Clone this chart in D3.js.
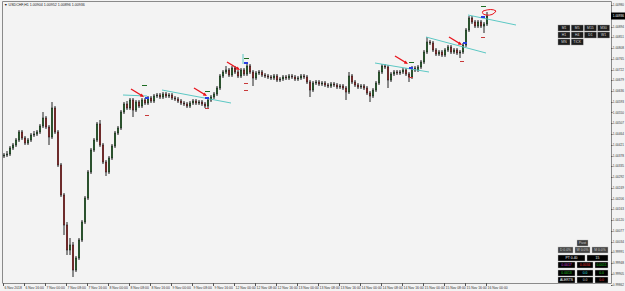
<!DOCTYPE html>
<html>
<head>
<meta charset="utf-8">
<script src="https://cdn.jsdelivr.net/npm/d3@7"></script>
<style>
  html, body { margin: 0; padding: 0; background: #f3f3f3; }
  svg { display: block; }
  text { font-family: "Liberation Sans", Arial, sans-serif; }
</style>
</head>
<body>
<div id="main"></div>
<script>
// USDCHF H1 candles
var open = [1.00376,1.00380,1.00384,1.00408,1.00420,1.00440,1.00472,1.00448,1.00428,1.00440,
  1.00460,1.00464,1.00472,1.00496,1.00528,1.00492,1.00452,1.00568,1.00472,1.00340,
  1.00220,1.00100,1.00000,1.00020,0.99920,0.99968,1.00040,1.00112,1.00208,1.00312,
  1.00400,1.00440,1.00504,1.00420,1.00352,1.00312,1.00368,1.00416,1.00468,1.00488,
  1.00552,1.00584,1.00568,1.00600,1.00560,1.00592,1.00576,1.00600,1.00588,1.00608,
  1.00596,1.00616,1.00620,1.00612,1.00624,1.00616,1.00620,1.00608,1.00604,1.00596,
  1.00588,1.00584,1.00576,1.00588,1.00596,1.00588,1.00592,1.00584,1.00576,1.00600,
  1.00612,1.00624,1.00648,1.00696,1.00712,1.00720,1.00700,1.00728,1.00712,1.00696,
  1.00720,1.00704,1.00736,1.00712,1.00688,1.00708,1.00712,1.00700,1.00696,1.00692,
  1.00688,1.00696,1.00680,1.00684,1.00692,1.00688,1.00696,1.00692,1.00684,1.00688,
  1.00696,1.00692,1.00672,1.00640,1.00668,1.00672,1.00664,1.00668,1.00660,1.00656,
  1.00664,1.00660,1.00652,1.00656,1.00648,1.00632,1.00696,1.00672,1.00660,1.00652,
  1.00656,1.00648,1.00628,1.00616,1.00640,1.00668,1.00712,1.00736,1.00732,1.00680,
  1.00704,1.00712,1.00708,1.00712,1.00720,1.00704,1.00692,1.00728,1.00720,1.00732,
  1.00752,1.00792,1.00832,1.00828,1.00800,1.00784,1.00792,1.00780,1.00800,1.00812,
  1.00792,1.00800,1.00788,1.00792,1.00820,1.00880,1.00928,1.00912,1.00896,1.00912,
  1.00896,1.00904];
var high = [1.00388,1.00396,1.00416,1.00428,1.00448,1.00480,1.00480,1.00456,1.00448,1.00468,
  1.00476,1.00480,1.00504,1.00552,1.00536,1.00500,1.00592,1.00576,1.00480,1.00348,
  1.00228,1.00112,1.00048,1.00032,0.99976,1.00048,1.00120,1.00216,1.00320,1.00408,
  1.00448,1.00512,1.00520,1.00428,1.00360,1.00376,1.00424,1.00476,1.00496,1.00560,
  1.00592,1.00596,1.00608,1.00608,1.00600,1.00600,1.00608,1.00608,1.00616,1.00616,
  1.00624,1.00628,1.00628,1.00632,1.00632,1.00628,1.00628,1.00616,1.00612,1.00604,
  1.00596,1.00592,1.00596,1.00604,1.00604,1.00600,1.00600,1.00592,1.00608,1.00620,
  1.00632,1.00656,1.00704,1.00720,1.00736,1.00728,1.00736,1.00736,1.00720,1.00728,
  1.00728,1.00744,1.00744,1.00720,1.00716,1.00720,1.00720,1.00708,1.00704,1.00700,
  1.00704,1.00704,1.00692,1.00700,1.00700,1.00704,1.00704,1.00700,1.00696,1.00704,
  1.00704,1.00700,1.00680,1.00676,1.00680,1.00680,1.00676,1.00676,1.00668,1.00672,
  1.00672,1.00668,1.00664,1.00664,1.00656,1.00712,1.00704,1.00680,1.00668,1.00664,
  1.00664,1.00656,1.00636,1.00648,1.00676,1.00720,1.00744,1.00744,1.00740,1.00712,
  1.00720,1.00720,1.00720,1.00728,1.00728,1.00712,1.00736,1.00736,1.00740,1.00760,
  1.00800,1.00852,1.00840,1.00836,1.00808,1.00800,1.00800,1.00808,1.00820,1.00820,
  1.00808,1.00808,1.00800,1.00828,1.00888,1.00936,1.00936,1.00920,1.00920,1.00920,
  1.00912,1.00952];
var low = [1.00368,1.00372,1.00376,1.00400,1.00412,1.00432,1.00440,1.00420,1.00420,1.00432,
  1.00452,1.00456,1.00464,1.00488,1.00484,1.00420,1.00444,1.00464,1.00332,1.00212,
  1.00060,0.99980,0.99980,0.99892,0.99912,0.99960,1.00032,1.00104,1.00200,1.00304,
  1.00392,1.00432,1.00412,1.00344,1.00296,1.00304,1.00360,1.00408,1.00460,1.00480,
  1.00544,1.00560,1.00560,1.00532,1.00552,1.00568,1.00568,1.00580,1.00580,1.00588,
  1.00588,1.00608,1.00604,1.00604,1.00608,1.00608,1.00600,1.00596,1.00588,1.00580,
  1.00576,1.00568,1.00568,1.00580,1.00580,1.00580,1.00576,1.00568,1.00568,1.00592,
  1.00604,1.00616,1.00640,1.00688,1.00704,1.00692,1.00692,1.00704,1.00688,1.00688,
  1.00696,1.00696,1.00704,1.00656,1.00680,1.00700,1.00692,1.00688,1.00684,1.00680,
  1.00680,1.00672,1.00672,1.00676,1.00680,1.00680,1.00684,1.00676,1.00676,1.00680,
  1.00684,1.00664,1.00612,1.00632,1.00660,1.00656,1.00656,1.00652,1.00648,1.00648,
  1.00652,1.00644,1.00644,1.00640,1.00600,1.00624,1.00664,1.00652,1.00644,1.00644,
  1.00640,1.00620,1.00592,1.00608,1.00632,1.00660,1.00704,1.00724,1.00648,1.00672,
  1.00696,1.00700,1.00700,1.00704,1.00696,1.00672,1.00684,1.00712,1.00712,1.00724,
  1.00744,1.00784,1.00820,1.00792,1.00776,1.00776,1.00772,1.00772,1.00792,1.00784,
  1.00784,1.00780,1.00768,1.00784,1.00812,1.00872,1.00904,1.00888,1.00888,1.00888,
  1.00868,1.00896];
var close = [1.00380,1.00384,1.00408,1.00420,1.00440,1.00472,1.00448,1.00428,1.00440,1.00460,
  1.00464,1.00472,1.00496,1.00528,1.00492,1.00452,1.00568,1.00472,1.00340,1.00220,
  1.00100,1.00000,1.00020,0.99920,0.99968,1.00040,1.00112,1.00208,1.00312,1.00400,
  1.00440,1.00504,1.00420,1.00352,1.00312,1.00368,1.00416,1.00468,1.00488,1.00552,
  1.00584,1.00568,1.00600,1.00560,1.00592,1.00576,1.00600,1.00588,1.00608,1.00596,
  1.00616,1.00620,1.00612,1.00624,1.00616,1.00620,1.00608,1.00604,1.00596,1.00588,
  1.00584,1.00576,1.00588,1.00596,1.00588,1.00592,1.00584,1.00576,1.00600,1.00612,
  1.00624,1.00648,1.00696,1.00712,1.00720,1.00700,1.00728,1.00712,1.00696,1.00720,
  1.00704,1.00736,1.00712,1.00688,1.00708,1.00712,1.00700,1.00696,1.00692,1.00688,
  1.00696,1.00680,1.00684,1.00692,1.00688,1.00696,1.00692,1.00684,1.00688,1.00696,
  1.00692,1.00672,1.00640,1.00668,1.00672,1.00664,1.00668,1.00660,1.00656,1.00664,
  1.00660,1.00652,1.00656,1.00648,1.00632,1.00696,1.00672,1.00660,1.00652,1.00656,
  1.00648,1.00628,1.00616,1.00640,1.00668,1.00712,1.00736,1.00732,1.00680,1.00704,
  1.00712,1.00708,1.00712,1.00720,1.00704,1.00692,1.00728,1.00720,1.00732,1.00752,
  1.00792,1.00832,1.00828,1.00800,1.00784,1.00792,1.00780,1.00800,1.00812,1.00792,
  1.00800,1.00788,1.00792,1.00820,1.00880,1.00928,1.00912,1.00896,1.00912,1.00896,
  1.00904,1.00936];

var priceTicks = [1.00980,1.00937,1.00894,1.00851,1.00808,1.00765,1.00722,1.00679,1.00636,
  1.00593,1.00550,1.00507,1.00464,1.00421,1.00378,1.00335,1.00292,1.00249,1.00206,1.00163,
  1.00120,1.00077,1.00034,0.99991,0.99948,0.99905,0.99862];
var timeLabels = ["6 Nov 2018","6 Nov 16:00","7 Nov 00:00","7 Nov 08:00","7 Nov 16:00",
  "8 Nov 00:00","8 Nov 08:00","8 Nov 16:00","9 Nov 00:00","9 Nov 08:00","9 Nov 16:00",
  "12 Nov 00:00","12 Nov 08:00","12 Nov 16:00","13 Nov 00:00","13 Nov 08:00","13 Nov 16:00",
  "14 Nov 00:00","14 Nov 08:00","14 Nov 16:00","15 Nov 00:00","15 Nov 08:00","15 Nov 16:00",
  "16 Nov 00:00"];
var titleText = "USDCHF,H1  1.00904 1.00952 1.00896 1.00936";

// annotations: [bar, price]
var trendLines = [[40,1.00620,48,1.00616],[53,1.00640,76,1.00588],[80,1.00784,80,1.00744],
  [124,1.00748,142,1.00712],[141,1.00852,161,1.00788],[155,1.00940,171,1.00900]];
var arrowTargets = [[47,1.00612],[68,1.00616],[79,1.00720],[135,1.00744],[153,1.00820]];
var blueMarks = [[48,1.00608],[68,1.00608],[81,1.00748],[136,1.00728],[154,1.00828],[160,1.00932]];
var greenMarks = [[47,1.00660],[68,1.00636],[81,1.00768],[136,1.00752],[160,1.00976]];
var redMarks = [[48,1.00540],[68,1.00568],[81,1.00668],[81,1.00640],[136,1.00692],[153,1.00756],[160,1.00852]];

var topButtons = [["M1","M5","M15","M30"],["H1","H4","D1","W1"],["MN","TICK"]];

var W = 625, H = 291;
var plotRight = 611, plotBottom = 283;

var svg = d3.select("#main").append("svg")
    .attr("width", W).attr("height", H);

svg.append("rect").attr("width", W).attr("height", H).attr("fill", "#f3f3f3");

var x = d3.scaleLinear().domain([0, close.length - 1]).range([3, 486]);
var y = d3.scaleLinear().domain([0.9988, 1.01]).range([280, 0]);

// frame
svg.append("path")
    .attr("d", "M2.5," + plotBottom + "V1.5H" + (plotRight + 0.5) + "V" + (plotBottom + 0.5) + "H2.5")
    .attr("fill", "none").attr("stroke", "#8a8a8a");

// price axis
var pAxis = svg.append("g");
pAxis.selectAll("line").data(priceTicks).enter().append("line")
    .attr("x1", plotRight).attr("x2", plotRight + 1.5)
    .attr("y1", function(d) { return Math.round(y(d)) + 0.5; })
    .attr("y2", function(d) { return Math.round(y(d)) + 0.5; })
    .attr("stroke", "#555");
pAxis.selectAll("text").data(priceTicks).enter().append("text")
    .attr("x", plotRight + 1.8)
    .attr("y", function(d) { return y(d) + 1.1; })
    .attr("font-size", 3.1).attr("fill", "#333")
    .text(function(d) { return d.toFixed(5); });

// time axis
var timeBars = d3.range(0, close.length, 7);
var tAxis = svg.append("g");
tAxis.selectAll("line").data(timeBars).enter().append("line")
    .attr("x1", function(d) { return Math.round(x(d)) + 0.5; })
    .attr("x2", function(d) { return Math.round(x(d)) + 0.5; })
    .attr("y1", plotBottom).attr("y2", plotBottom + 3)
    .attr("stroke", "#555");
tAxis.selectAll("text").data(timeBars).enter().append("text")
    .attr("x", function(d) { return x(d) + 1.5; })
    .attr("y", plotBottom + 5.5)
    .attr("font-size", 3.4).attr("fill", "#333")
    .text(function(d, i) { return timeLabels[i]; });

// title
svg.append("text").attr("x", 4).attr("y", 5.5)
    .attr("font-size", 3.6).attr("fill", "#222")
    .text("\u25BC " + titleText);

// candles
var idx = d3.range(close.length);
var candles = svg.append("g");
candles.selectAll("line").data(idx).enter().append("line")
    .attr("x1", function(i) { return Math.round(x(i)) + 1; })
    .attr("x2", function(i) { return Math.round(x(i)) + 1; })
    .attr("y1", function(i) { return y(high[i]); })
    .attr("y2", function(i) { return y(low[i]); })
    .attr("stroke", "#222").attr("stroke-width", 1);
candles.selectAll("rect").data(idx).enter().append("rect")
    .attr("x", function(i) { return Math.round(x(i)) + 0.25; })
    .attr("y", function(i) { return y(Math.max(open[i], close[i])); })
    .attr("width", 1.5)
    .attr("height", function(i) { return Math.max(0.6, Math.abs(y(open[i]) - y(close[i]))); })
    .attr("fill", function(i) { return close[i] >= open[i] ? "#23892c" : "#d42424"; })
    .attr("stroke", "#1a1a1a").attr("stroke-width", 0.5);

// trend lines
svg.append("g").selectAll("line").data(trendLines).enter().append("line")
    .attr("x1", function(d) { return x(d[0]); })
    .attr("y1", function(d) { return y(d[1]); })
    .attr("x2", function(d) { return x(d[2]); })
    .attr("y2", function(d) { return y(d[3]); })
    .attr("stroke", "#5cc8c4").attr("stroke-width", 1);

// markers
svg.append("g").selectAll("rect").data(blueMarks).enter().append("rect")
    .attr("x", function(d) { return x(d[0]) - 2; })
    .attr("y", function(d) { return y(d[1]) - 1; })
    .attr("width", 4).attr("height", 2)
    .attr("fill", "#2a3ee0");
svg.append("g").selectAll("rect").data(greenMarks).enter().append("rect")
    .attr("x", function(d) { return x(d[0]) - 2; })
    .attr("y", function(d) { return y(d[1]); })
    .attr("width", 5).attr("height", 1)
    .attr("fill", "#1d6b22");
svg.append("g").selectAll("rect").data(redMarks).enter().append("rect")
    .attr("x", function(d) { return x(d[0]) - 2; })
    .attr("y", function(d) { return y(d[1]); })
    .attr("width", 4).attr("height", 1)
    .attr("fill", "#c83a3a");

// red arrows
var arrows = svg.append("g");
arrowTargets.forEach(function(d) {
    var tx = x(d[0]), ty = y(d[1]);
    arrows.append("line")
        .attr("x1", tx - 13).attr("y1", ty - 8)
        .attr("x2", tx - 1.5).attr("y2", ty - 1)
        .attr("stroke", "#e8141c").attr("stroke-width", 1.4);
    arrows.append("path")
        .attr("d", "M" + tx + "," + ty + "l-4.2,-0.6l1.8,-2.8z")
        .attr("fill", "#e8141c");
});

// hand drawn loop near last bar
var lx = x(161), ly = y(1.00944);
svg.append("path")
    .attr("d", "M" + (lx - 3) + "," + (ly - 3) + " q9,-3 13,0 q-3,5 -10,4 q-5,-1 -3,-4")
    .attr("fill", "none").attr("stroke", "#e8141c").attr("stroke-width", 1);

// current price label
var cp = close[close.length - 1];
svg.append("rect").attr("x", plotRight).attr("y", y(cp) - 3.5)
    .attr("width", W - plotRight).attr("height", 7).attr("fill", "#000");
svg.append("text").attr("x", plotRight + 1.8).attr("y", y(cp) + 1.1)
    .attr("font-size", 3.1).attr("fill", "#fff")
    .text(cp.toFixed(5));

// timeframe buttons
var btn = svg.append("g");
topButtons.forEach(function(row, r) {
    row.forEach(function(label, c) {
        var bx = 558 + c * 13.2, by = 25 + r * 7;
        btn.append("rect").attr("x", bx).attr("y", by).attr("width", 12).attr("height", 6)
            .attr("fill", "#1c1c1c").attr("stroke", "#9a9a9a").attr("stroke-width", 0.4);
        btn.append("text").attr("x", bx + 6).attr("y", by + 4.1).attr("text-anchor", "middle")
            .attr("font-size", 3.4).attr("fill", "#ddd").text(label);
    });
});

// info panel bottom right
var panelRows = [
    {y: 240, cells: [[577, 11, "#3c3c3c", "#ccc", "Pivot"]]},
    {y: 247, cells: [[558, 15, "#444", "#ccc", "D 0.0%"], [575, 15, "#444", "#ccc", "W 0.0%"], [592, 16, "#444", "#ccc", "M 0.0%"]]},
    {y: 255, cells: [[558, 27, "#000", "#fff", "PT 0.40"], [587, 21, "#000", "#fff", "15"]]},
    {y: 262, cells: [[558, 17, "#000", "#d040d0", "0.0017"], [577, 16, "#000", "#e03030", "0.0034"], [595, 13, "#000", "#20c020", "0.0011"]]},
    {y: 270, cells: [[558, 17, "#000", "#20c020", "0.0013"], [577, 16, "#000", "#30e0e0", "0.0"], [595, 13, "#000", "#20c020", "0.0"]]},
    {y: 277, cells: [[558, 17, "#000", "#fff", "ALERTS"], [577, 16, "#000", "#ccc", "0.0"], [595, 13, "#000", "#e03030", "0.0"]]}
];
var panel = svg.append("g");
panelRows.forEach(function(row) {
    row.cells.forEach(function(c) {
        panel.append("rect").attr("x", c[0]).attr("y", row.y).attr("width", c[1]).attr("height", 6)
            .attr("fill", c[2]).attr("stroke", "#bbb").attr("stroke-width", 0.4);
        panel.append("text").attr("x", c[0] + c[1] / 2).attr("y", row.y + 4.1)
            .attr("text-anchor", "middle").attr("font-size", 3.4).attr("fill", c[3]).text(c[4]);
    });
});
</script>
</body>
</html>
